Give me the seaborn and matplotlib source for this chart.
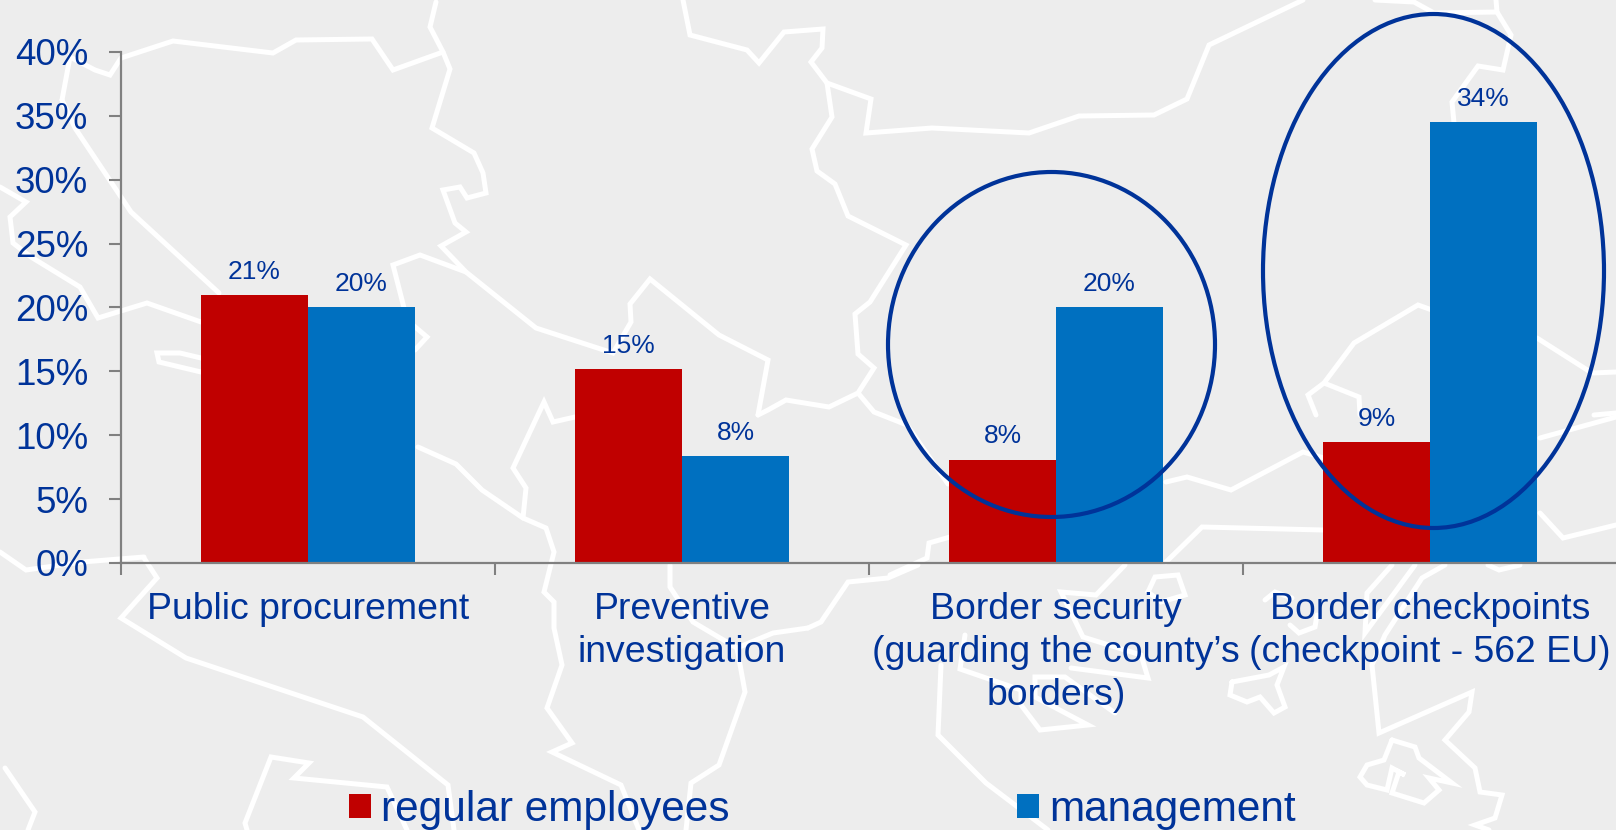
import seaborn as sns
import pandas as pd
import numpy as np
import matplotlib.pyplot as plt
from matplotlib.patches import Ellipse

categories = ["Public procurement", "Preventive\ninvestigation",
              "Border security\n(guarding the county\u2019s\nborders)",
              "Border checkpoints\n(checkpoint - 562 EU)"]
regular_employees = [21.0, 15.2, 8.1, 9.5]
management = [20.0, 8.4, 20.0, 34.5]
regular_labels = ["21%", "15%", "8%", "9%"]
management_labels = ["20%", "8%", "20%", "34%"]
y_ticks = [0, 5, 10, 15, 20, 25, 30, 35, 40]

TEXT = "#003399"
RED = "#C00000"
BLUE = "#0070C0"
GREY = "#808080"
BG = "#EDEDED"
W, H = 1616, 830

# background map outline, traced in image pixels
map_lines = [
    [(62, 100), (70, 57), (95, 70), (110, 75), (121, 58), (173, 41), (273, 53), (296, 40), (372, 39), (393, 70), (443, 52)],
    [(436, 2), (430, 27), (443, 52), (450, 69), (432, 128), (474, 153), (483, 173), (486, 193), (467, 198), (460, 187), (443, 190),
     (455, 223), (466, 232), (441, 246), (466, 272), (536, 328), (613, 353), (631, 322), (630, 304), (650, 279), (719, 335), (768, 360), (758, 415)],
    [(62, 100), (75, 128), (121, 197), (131, 212), (219, 293)],
    [(466, 272), (420, 255), (393, 265), (402, 300), (407, 320), (427, 337), (415, 350)],
    [(0, 187), (26, 202), (10, 217), (13, 243), (31, 257), (80, 287), (98, 318), (147, 303), (201, 322)],
    [(201, 358), (180, 353), (157, 353), (159, 362), (201, 372)],
    [(683, 0), (690, 35), (747, 50), (759, 63), (784, 32), (823, 29), (822, 48), (811, 62), (827, 83), (871, 99), (866, 133), (932, 128),
     (1029, 133), (1079, 116), (1154, 115), (1187, 99), (1209, 45), (1303, 0)],
    [(827, 83), (832, 117), (812, 149), (817, 171), (835, 184), (848, 216), (906, 245), (870, 302), (855, 314), (858, 354), (874, 368),
     (858, 393), (829, 407), (786, 400), (768, 410), (758, 415)],
    [(858, 393), (874, 412), (907, 425), (948, 484)],
    [(1375, 0), (1414, 2), (1434, 13), (1497, 12), (1496, 0)],
    [(1497, 12), (1511, 35), (1503, 70), (1478, 66), (1452, 102), (1454, 123)],
    [(1432, 310), (1418, 305), (1354, 343), (1324, 383), (1359, 397), (1360, 415)],
    [(1324, 383), (1308, 395), (1316, 415)],
    [(1537, 338), (1592, 373), (1616, 372)],
    [(1594, 415), (1616, 413)],
    [(1540, 438), (1616, 417)],
    [(1540, 513), (1563, 538), (1616, 525)],
    [(1166, 482), (1187, 477), (1231, 490), (1303, 452), (1324, 458)],
    [(1166, 562), (1202, 527), (1323, 530)],
    [(890, 575), (927, 558), (929, 543), (950, 537)],
    [(808, 628), (821, 622), (848, 582), (888, 578), (918, 565)],
    [(941, 665), (938, 735), (986, 783), (1048, 830)],
    [(965, 635), (960, 669), (1021, 690), (1021, 705), (1040, 730), (1088, 725), (1035, 697), (1035, 677), (1065, 677), (1115, 713)],
    [(1125, 565), (1096, 595), (1061, 592), (1083, 637), (1141, 655), (1148, 678), (1071, 668)],
    [(1148, 592), (1155, 577), (1178, 575), (1185, 595), (1161, 602), (1148, 592)],
    [(1265, 600), (1275, 592), (1292, 598)],
    [(1290, 625), (1299, 633), (1315, 627), (1317, 615)],
    [(1392, 565), (1367, 593), (1365, 633), (1415, 565)],
    [(1445, 565), (1422, 578), (1385, 635), (1372, 665), (1379, 733), (1472, 692), (1469, 712), (1445, 740), (1475, 768), (1480, 792),
     (1502, 795), (1495, 818), (1475, 825), (1489, 830)],
    [(1232, 682), (1269, 675), (1284, 667), (1277, 685), (1285, 707), (1274, 713), (1260, 697), (1247, 702), (1230, 695), (1232, 682)],
    [(1392, 740), (1415, 747), (1419, 758), (1452, 783), (1429, 778), (1439, 790), (1424, 803), (1392, 793), (1399, 772), (1405, 775),
     (1392, 768), (1387, 790), (1367, 785), (1360, 777), (1367, 765), (1384, 760), (1392, 740)],
    [(1488, 565), (1499, 570), (1520, 565)],
    [(144, 558), (157, 578), (121, 618), (186, 658), (363, 717), (448, 785), (454, 830)],
    [(0, 552), (26, 570), (82, 562), (144, 557)],
    [(247, 830), (245, 823), (271, 757), (309, 763), (294, 778), (387, 787), (407, 830)],
    [(5, 768), (35, 812), (28, 830)],
    [(418, 447), (456, 464), (482, 490), (523, 518), (546, 528), (554, 552), (544, 592), (554, 602), (554, 628), (562, 665), (547, 708),
     (572, 743), (552, 752), (621, 785), (639, 830)],
    [(575, 417), (553, 422), (544, 402), (513, 468), (526, 488), (523, 518)],
    [(670, 565), (670, 587), (693, 622), (737, 648), (745, 692), (719, 765), (691, 783), (686, 830)],
    [(808, 628), (773, 633), (737, 648)],
]

sns.set_style("ticks")
plt.rcParams['font.family'] = ['Liberation Sans', 'DejaVu Sans']

fig = plt.figure(figsize=(W / 100, H / 100), dpi=100, facecolor=BG)

bg = fig.add_axes([0, 0, 1, 1], zorder=-1)
bg.set_xlim(0, W)
bg.set_ylim(H, 0)
bg.axis("off")
for line in map_lines:
    xy = np.array(line)
    bg.plot(xy[:, 0], xy[:, 1], color="white", lw=3.6, solid_joinstyle="miter")

ax = fig.add_axes([121 / W, 1 - 563 / H, 1 - 121 / W + 1 / W, (563 - 52) / H], zorder=1)
ax.patch.set_alpha(0)

df = pd.DataFrame({
    "category": categories * 2,
    "value": regular_employees + management,
    "group": ["regular employees"] * 4 + ["management"] * 4,
})
sns.barplot(data=df, x="category", y="value", hue="group", palette=[RED, BLUE],
            width=0.572, gap=0, saturation=1, errorbar=None, linewidth=0, ax=ax)

ax.bar_label(ax.containers[0], labels=regular_labels, padding=8, fontsize=19, color=TEXT)
ax.bar_label(ax.containers[1], labels=management_labels, padding=8, fontsize=19, color=TEXT)

ax.set_xlim(-0.5, 3.5)
ax.set_ylim(0, 40)
ax.set_xlabel("")
ax.set_ylabel("")
ax.set_yticks(y_ticks)
ax.set_yticklabels([f"{v}%" for v in y_ticks], fontsize=26.5, color=TEXT)
ax.set_xticks(range(4))
ax.set_xticklabels(categories, fontsize=26.9, color=TEXT, linespacing=1.3)
ax.set_xticks([-0.5, 0.5, 1.5, 2.5], minor=True)
ax.tick_params(axis="x", which="major", length=0, pad=21)
ax.tick_params(axis="x", which="minor", length=8.6, width=1.5, color=GREY)
ax.tick_params(axis="y", length=8.6, width=1.5, color=GREY, pad=15)
sns.despine(ax=ax)
for s in ["left", "bottom"]:
    ax.spines[s].set_color(GREY)
    ax.spines[s].set_linewidth(1.6)

leg = ax.legend(loc="lower left", bbox_to_anchor=(349 / W, 0), bbox_transform=fig.transFigure,
                ncol=2, frameon=False, fontsize=30.5, borderpad=0, borderaxespad=0,
                handlelength=0.52, handleheight=0.52, handletextpad=0.24, columnspacing=6.78,
                labelcolor=TEXT)
for h in leg.legend_handles:
    h.set_edgecolor("none")

# highlight rings, given in image pixels
for x0, x1, y0, y1 in [(888, 1215, 172, 517), (1263, 1604, 14, 528)]:
    fig.add_artist(Ellipse(((x0 + x1) / 2 / W, 1 - (y0 + y1) / 2 / H), (x1 - x0) / W, (y1 - y0) / H,
                           transform=fig.transFigure, fill=False, edgecolor=TEXT, lw=3.0, zorder=5))

plt.savefig("out.png", dpi=100, facecolor=BG)
